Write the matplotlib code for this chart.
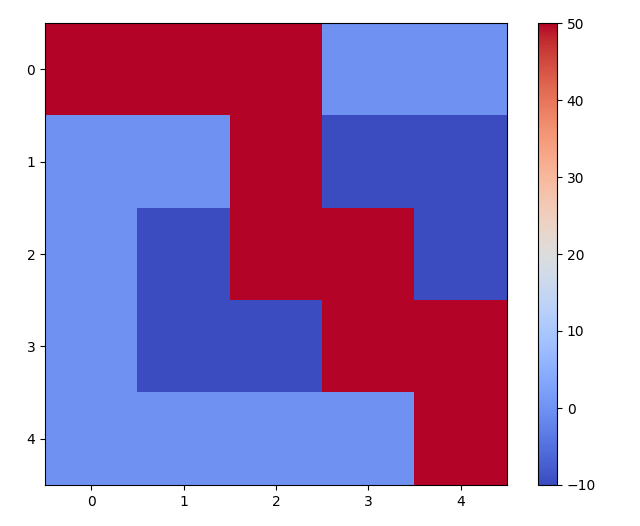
import numpy as np
import matplotlib
matplotlib.use("Agg")
import matplotlib.pyplot as plt

# grid values (rows top to bottom)
row0 = [50, 50, 50, 0, 0]
row1 = [0, 0, 50, -10, -10]
row2 = [0, -10, 50, 50, -10]
row3 = [0, -10, -10, 50, 50]
row4 = [0, 0, 0, 0, 50]
grid = np.array([row0, row1, row2, row3, row4])

W, H = 640, 526
fig = plt.figure(figsize=(6.4, 5.26), dpi=100)
ax = fig.add_axes([45 / W, (H - 485) / H, 462 / W, 462 / H])
cax = fig.add_axes([538 / W, (H - 485) / H, 19 / W, 462 / H])
im = ax.imshow(grid, cmap="coolwarm", vmin=-10, vmax=50)
fig.colorbar(im, cax=cax)
plt.savefig("out.png", dpi=100)
